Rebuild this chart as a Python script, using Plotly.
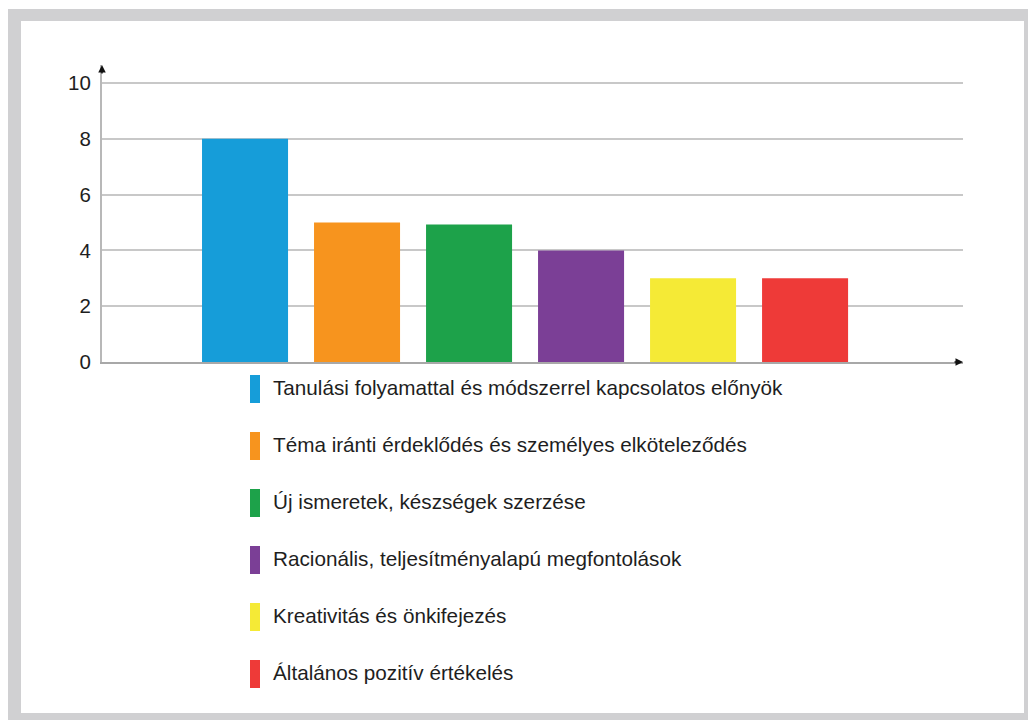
import plotly.graph_objects as go

# Survey categories, scores and colours
categories = [
    "Tanulási folyamattal és módszerrel kapcsolatos előnyök",
    "Téma iránti érdeklődés és személyes elköteleződés",
    "Új ismeretek, készségek szerzése",
    "Racionális, teljesítményalapú megfontolások",
    "Kreativitás és önkifejezés",
    "Általános pozitív értékelés",
]
values = [8, 5, 4.93, 4, 3, 3]
colors = ["#169dd9", "#f7941e", "#1da24a", "#7b3f96", "#f5ea36", "#ee3a38"]
y_ticks = [0, 2, 4, 6, 8, 10]

W, H = 1028, 720
# plot area in pixels
PX0, PX1 = 102, 963
PY_TOP, PY_BOT = 65, 362


def px(x):
    return (x - PX0) / (PX1 - PX0)


def py(y):
    return (PY_BOT - y) / (PY_BOT - PY_TOP)


FONT = "Liberation Sans, Arial, sans-serif"

fig = go.Figure()
fig.add_trace(go.Bar(
    x=list(range(len(categories))),
    y=values,
    marker=dict(color=colors, line=dict(width=0)),
    hoverinfo="skip",
    showlegend=False,
))

shapes = [
    # grey frame around the figure
    dict(type="rect", xref="paper", yref="paper", layer="below",
         x0=px(8), x1=px(1032), y0=py(9), y1=py(724),
         fillcolor="#d0d0d2", line=dict(width=0)),
    dict(type="rect", xref="paper", yref="paper", layer="below",
         x0=px(21), x1=px(1024), y0=py(21), y1=py(713),
         fillcolor="white", line=dict(width=0)),
]

annotations = [
    # axis arrowheads
    dict(xref="paper", yref="paper", x=0, y=1, ax=0, ay=10,
         showarrow=True, arrowhead=2, arrowsize=1, arrowwidth=1.5,
         arrowcolor="#111", text="", standoff=0),
    dict(xref="paper", yref="paper", x=1, y=0, ax=-10, ay=0,
         showarrow=True, arrowhead=2, arrowsize=1, arrowwidth=1.5,
         arrowcolor="#111", text="", standoff=0),
]

# custom legend: tall narrow swatches with labels
row0, step = 389, 57
for i, (name, col) in enumerate(zip(categories, colors)):
    cy = row0 + i * step
    shapes.append(dict(type="rect", xref="paper", yref="paper",
                       x0=px(250), x1=px(260), y0=py(cy + 14), y1=py(cy - 14),
                       fillcolor=col, line=dict(width=0)))
    annotations.append(dict(xref="paper", yref="paper", x=px(271), y=py(cy - 2),
                            xanchor="left", yanchor="middle", showarrow=False,
                            text=name, font=dict(family=FONT, size=20.7, color="#1e1e1e")))

fig.update_layout(
    width=W, height=H,
    margin=dict(l=PX0, r=W - PX1, t=PY_TOP, b=H - PY_BOT, pad=0),
    paper_bgcolor="white",
    plot_bgcolor="rgba(0,0,0,0)",
    bargap=0.232,
    shapes=shapes,
    annotations=annotations,
    xaxis=dict(range=[-1.277, 6.41], showticklabels=False, showgrid=False,
               zeroline=False, showline=True, linecolor="#a8a8a8", linewidth=2,
               ticks="", fixedrange=True),
    yaxis=dict(range=[0, (PY_BOT - PY_TOP) / 27.9], tickvals=y_ticks,
               showgrid=True, gridcolor="#c8c8c8", gridwidth=1.5,
               zeroline=False, showline=True, linecolor="#b8b8b8", linewidth=2,
               ticks="", ticklabelstandoff=5,
               tickfont=dict(family=FONT, size=20.5, color="#1e1e1e"),
               fixedrange=True),
)

fig.write_html("out.html")
